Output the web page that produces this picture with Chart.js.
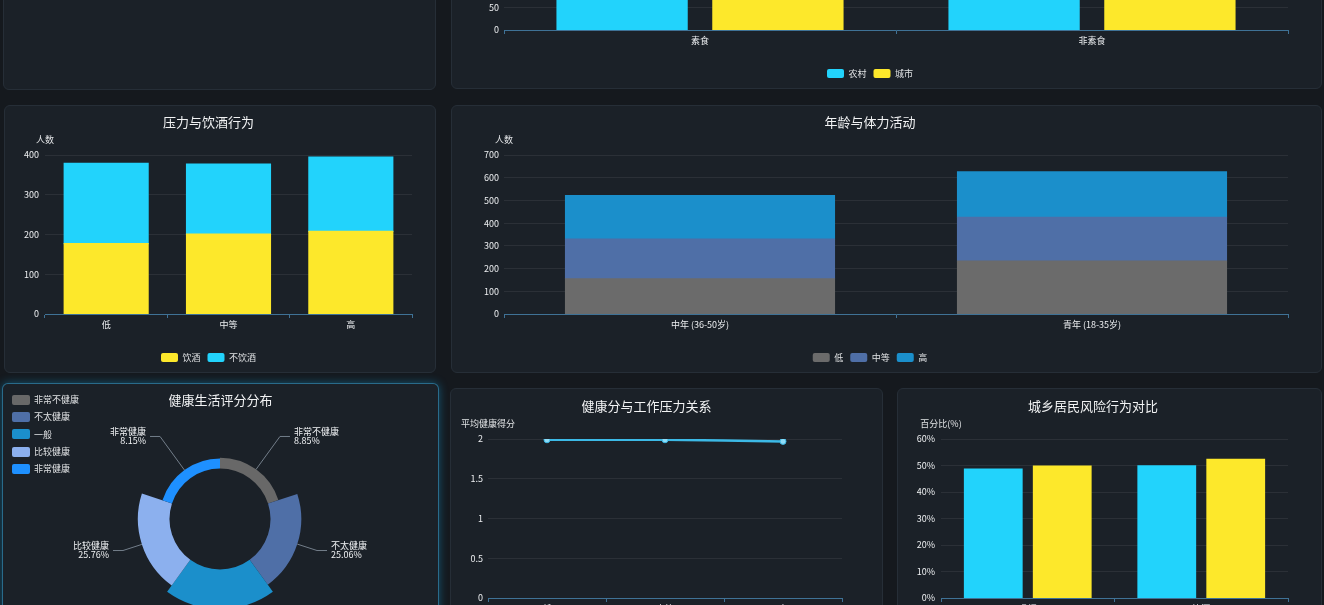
<!DOCTYPE html>
<html lang="zh-CN">
<head>
<meta charset="utf-8">
<title>健康生活方式分析</title>
<script src="https://cdn.jsdelivr.net/npm/chart.js@4.4.1/dist/chart.umd.min.js"></script>
<style>
  html, body { margin: 0; padding: 0; width: 1324px; height: 605px; overflow: hidden; background: #15191e; }
  .panel { position: absolute; box-sizing: border-box; background: #1b2128; border: 1px solid #262e37; border-radius: 6px; overflow: hidden; }
  .panel.active { border-color: rgba(52, 170, 220, 0.55); box-shadow: 0 0 10px rgba(20, 160, 220, 0.45); }
  .chart-box { position: absolute; left: 0; top: 0; right: 0; bottom: 0; }
  #healthLegend { position: absolute; left: 9px; top: 7px; font: 9px "Noto Sans CJK SC", sans-serif; color: #e0e2e4; }
  .lg-row { height: 17.3px; display: flex; align-items: center; }
  .lg-box { width: 18px; height: 10px; border-radius: 2px; margin-right: 4px; }
</style>
</head>
<body>
<div class="panel" style="left:3px; top:-178px; width:433px; height:268px;"></div>
<div class="panel" style="left:451px; top:-179px; width:871px; height:268px;"><div class="chart-box"><canvas id="dietChart"></canvas></div></div>
<div class="panel" style="left:4px; top:105px; width:432px; height:268px;"><div class="chart-box"><canvas id="stressChart"></canvas></div></div>
<div class="panel" style="left:451px; top:105px; width:871px; height:268px;"><div class="chart-box"><canvas id="ageChart"></canvas></div></div>
<div class="panel active" style="left:2px; top:383px; width:437px; height:270px;"><div class="chart-box"><canvas id="healthChart"></canvas></div><div id="healthLegend"></div></div>
<div class="panel" style="left:450px; top:388px; width:433px; height:268px;"><div class="chart-box"><canvas id="scoreChart"></canvas></div></div>
<div class="panel" style="left:897px; top:388px; width:425px; height:268px;"><div class="chart-box"><canvas id="riskChart"></canvas></div></div>

<script>
// 饮食与城乡
const dietCats = ['素食', '非素食'];
const dietRural = [268, 281];
const dietUrban = [305, 293];

// 压力与饮酒
const stressCats = ['低', '中等', '高'];
const stressDrink = [177, 201, 208];
const stressNoDrink = [202, 176, 187];

// 年龄与体力活动
const ageCats = ['中年 (36-50岁)', '青年 (18-35岁)'];
const actLow = [155, 233];
const actMid = [175, 193];
const actHigh = [191, 200];

// 健康生活评分分布 (%)
const healthLevels = ['非常不健康', '不太健康', '一般', '比较健康', '非常健康'];
const healthShares = [8.85, 25.06, 32.18, 25.76, 8.15];

// 健康分与工作压力
const scoreCats = ['低', '中等', '高'];
const scoreAvg = [1.99, 1.99, 1.97];

// 城乡风险行为 (%)
const riskCats = ['吸烟', '饮酒'];
const riskRural = [48.6, 49.9];
const riskUrban = [49.8, 52.3];

const CYAN = '#22d3fc';
const YELLOW = '#fde82b';
const healthColors = ['#686868', '#4f6fa7', '#1b8fcb', '#8cb0ee', '#1e90ff'];
const activityColors = ['#6b6b6b', '#4f6fa7', '#1b8fcb'];

const FONT = '"Noto Sans CJK SC", "Noto Sans", sans-serif';
const AXIS = '#3f7296';
const GRID = 'rgba(255,255,255,0.07)';
const TEXT = '#eceef0';

Chart.defaults.font.family = FONT;
Chart.defaults.font.size = 9;
Chart.defaults.color = TEXT;
Chart.defaults.animation = false;

// y axis name drawn above the axis, like the original dashboard
Chart.register({
  id: 'axisName',
  afterDraw(chart, args, opts) {
    if (!opts.text) return;
    const ctx = chart.ctx;
    ctx.save();
    ctx.font = '9px ' + FONT;
    ctx.fillStyle = '#e0e2e4';
    ctx.textAlign = 'center';
    ctx.textBaseline = 'middle';
    ctx.fillText(opts.text, chart.chartArea.left, chart.chartArea.top - 15.5);
    ctx.restore();
  }
});

function titleOpts(text, top, bottom) {
  return { display: true, text: text, color: '#f2f3f4', font: { size: 13, weight: 'normal' }, padding: { top: top, bottom: bottom } };
}

function legendOpts(show) {
  return {
    display: show, position: 'bottom',
    labels: { boxWidth: 17, boxHeight: 9, padding: 7, useBorderRadius: true, borderRadius: 2, color: '#e0e2e4', font: { size: 9 } }
  };
}

function xScale(height, extra) {
  return Object.assign({
    grid: { display: true, drawOnChartArea: false, drawTicks: true, tickLength: 4, color: AXIS, offset: true },
    border: { display: true, color: AXIS },
    ticks: { padding: 1, color: TEXT },
    afterFit: s => { s.height = height; }
  }, extra || {});
}

function yScale(width, max, step, pad, fmt) {
  return {
    min: 0, max: max,
    grid: { color: GRID, drawTicks: false },
    border: { display: false },
    ticks: { stepSize: step, padding: pad, color: TEXT, callback: fmt || (v => v) },
    afterFit: s => { s.width = width; }
  };
}

function bars(label, data, color, grouped) {
  return {
    label: label, data: data, backgroundColor: color, borderWidth: 0, inflateAmount: 0.6,
    categoryPercentage: grouped ? 0.795 : 0.7,
    barPercentage: grouped ? 0.835 : 0.98
  };
}

new Chart(document.getElementById('dietChart'), {
  type: 'bar',
  data: { labels: dietCats, datasets: [bars('农村', dietRural, CYAN, true), bars('城市', dietUrban, YELLOW, true)] },
  options: {
    responsive: true, maintainAspectRatio: false,
    layout: { padding: { left: 0, right: 33, top: 0, bottom: 0 } },
    scales: { x: xScale(32), y: yScale(52, 350, 50, 5) },
    plugins: { legend: legendOpts(true), title: titleOpts('饮食习惯与城乡分布', 8, 25.4), tooltip: { enabled: false }, axisName: { text: '人数' } }
  }
});

new Chart(document.getElementById('stressChart'), {
  type: 'bar',
  data: { labels: stressCats, datasets: [bars('饮酒', stressDrink, YELLOW), bars('不饮酒', stressNoDrink, CYAN)] },
  options: {
    responsive: true, maintainAspectRatio: false,
    layout: { padding: { left: 0, right: 23, top: 0, bottom: 0 } },
    scales: { x: xScale(32, { stacked: true }), y: Object.assign(yScale(40, 400, 100, 6), { stacked: true }) },
    plugins: { legend: legendOpts(true), title: titleOpts('压力与饮酒行为', 8, 25.4), tooltip: { enabled: false }, axisName: { text: '人数' } }
  }
});

new Chart(document.getElementById('ageChart'), {
  type: 'bar',
  data: {
    labels: ageCats,
    datasets: [bars('低', actLow, activityColors[0]), bars('中等', actMid, activityColors[1]), bars('高', actHigh, activityColors[2])]
  },
  options: {
    responsive: true, maintainAspectRatio: false,
    layout: { padding: { left: 0, right: 33, top: 0, bottom: 0 } },
    scales: { x: xScale(32, { stacked: true }), y: Object.assign(yScale(52, 700, 100, 5), { stacked: true }) },
    plugins: { legend: legendOpts(true), title: titleOpts('年龄与体力活动', 8, 25.4), tooltip: { enabled: false }, axisName: { text: '人数' } }
  }
});

// rose ring: give every arc the same hole, taken from the radial scale
const ringHole = {
  id: 'ringHole',
  afterDatasetsUpdate(chart) {
    const hole = chart.scales.r.getDistanceFromCenterForValue(0);
    chart.getDatasetMeta(0).data.forEach(arc => { arc.innerRadius = hole; });
  }
};

const sliceLabels = {
  id: 'sliceLabels',
  afterDatasetsDraw(chart) {
    const ctx = chart.ctx;
    const bendR = chart.scales.r.drawingArea + 12;
    ctx.save();
    ctx.font = '9px ' + FONT;
    ctx.textBaseline = 'middle';
    chart.getDatasetMeta(0).data.forEach((arc, i) => {
      const a = (arc.startAngle + arc.endAngle) / 2;
      const cos = Math.cos(a), sin = Math.sin(a);
      const dir = cos >= -1e-6 ? 1 : -1;
      const x1 = arc.x + cos * bendR, y1 = arc.y + sin * bendR;
      const x2 = x1 + dir * 10;
      ctx.strokeStyle = '#737e8a';
      ctx.lineWidth = 1;
      ctx.beginPath();
      ctx.moveTo(arc.x + cos * arc.outerRadius, arc.y + sin * arc.outerRadius);
      ctx.lineTo(x1, y1);
      ctx.lineTo(x2, y1);
      ctx.stroke();
      ctx.fillStyle = '#f0f2f4';
      ctx.textAlign = dir > 0 ? 'left' : 'right';
      ctx.fillText(healthLevels[i], x2 + dir * 4, y1 - 4.5);
      ctx.fillText(healthShares[i].toFixed(2) + '%', x2 + dir * 4, y1 + 4.5);
    });
    ctx.restore();
  }
};

const shareMax = Math.max(...healthShares);
new Chart(document.getElementById('healthChart'), {
  type: 'polarArea',
  data: { labels: healthLevels, datasets: [{ data: healthShares, backgroundColor: healthColors, borderWidth: 0 }] },
  options: {
    responsive: true, maintainAspectRatio: false,
    layout: { padding: { left: 0, right: 0, top: 0, bottom: 42 } },
    scales: { r: { display: false, min: -shareMax * 1.278, max: shareMax, startAngle: 0 } },
    plugins: { legend: { display: false }, title: titleOpts('健康生活评分分布', 8, 22), tooltip: { enabled: false } }
  },
  plugins: [ringHole, sliceLabels]
});

const lg = document.getElementById('healthLegend');
healthLevels.forEach((name, i) => {
  const row = document.createElement('div');
  row.className = 'lg-row';
  row.innerHTML = '<span class="lg-box" style="background:' + healthColors[i] + '"></span>' + name;
  lg.appendChild(row);
});

new Chart(document.getElementById('scoreChart'), {
  type: 'line',
  data: {
    labels: scoreCats,
    datasets: [{
      label: '平均健康得分', data: scoreAvg, borderColor: '#3cb9e6', backgroundColor: '#3cb9e6',
      borderWidth: 2.5, pointRadius: 3, pointBackgroundColor: '#8fdcf7', pointBorderColor: '#3cb9e6', pointBorderWidth: 1, tension: 0.3
    }]
  },
  options: {
    responsive: true, maintainAspectRatio: false,
    layout: { padding: { left: 0, right: 40, top: 0, bottom: 0 } },
    scales: { x: xScale(57, { offset: true }), y: yScale(37, 2, 0.5, 5) },
    plugins: { legend: { display: false }, title: titleOpts('健康分与工作压力关系', 9, 25.4), tooltip: { enabled: false }, axisName: { text: '平均健康得分' } }
  }
});

new Chart(document.getElementById('riskChart'), {
  type: 'bar',
  data: { labels: riskCats, datasets: [bars('农村', riskRural, CYAN, true), bars('城市', riskUrban, YELLOW, true)] },
  options: {
    responsive: true, maintainAspectRatio: false,
    layout: { padding: { left: 0, right: 33, top: 0, bottom: 0 } },
    scales: { x: xScale(31), y: yScale(43, 60, 10, 6, v => v + '%') },
    plugins: { legend: legendOpts(true), title: titleOpts('城乡居民风险行为对比', 9, 25.4), tooltip: { enabled: false }, axisName: { text: '百分比(%)' } }
  }
});
</script>
</body>
</html>
